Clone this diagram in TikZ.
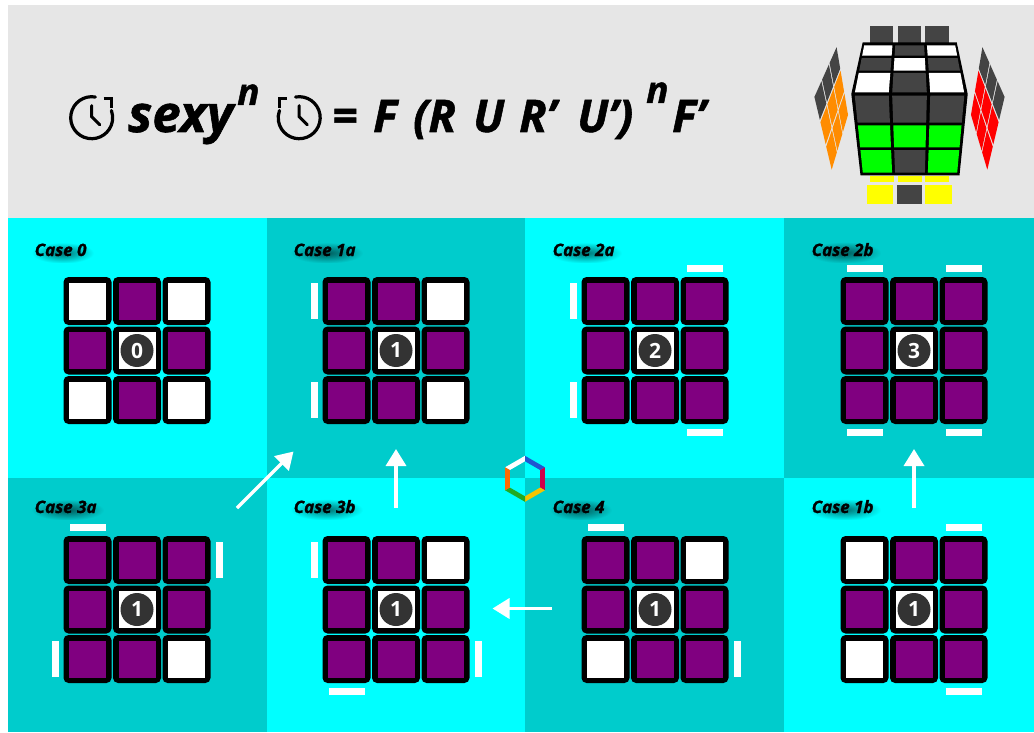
\documentclass[tikz,border=0pt]{standalone}
\usepackage{fontspec}
\setmainfont{Open Sans}
\newfontfamily\heavyfont{Open Sans}[BoldItalicFeatures={FakeBold=1.2}]
\usetikzlibrary{arrows.meta,fadings}

\definecolor{panelcyan}{HTML}{00FFFF}
\definecolor{panelteal}{HTML}{00CCCC}
\definecolor{headbg}{HTML}{E6E6E6}
\definecolor{stkpurple}{HTML}{800080}
\definecolor{badgegray}{HTML}{333333}
\definecolor{cubedark}{HTML}{444444}
\definecolor{cubegreen}{HTML}{00FF00}
\definecolor{cubeorange}{HTML}{FF8C00}
\definecolor{cubered}{HTML}{FF0000}
\definecolor{cubeyellow}{HTML}{FFFF00}
\definecolor{hexwhite}{HTML}{FFFFFF}
\definecolor{hexblue}{HTML}{2056D0}
\definecolor{hexred}{HTML}{D0004A}
\definecolor{hexyellow}{HTML}{F5C400}
\definecolor{hexgreen}{HTML}{22AA22}
\definecolor{hexorange}{HTML}{FF6A00}

\pgfdeclarelayer{shade}
\pgfdeclarelayer{labels}
\pgfsetlayers{main,shade,labels}

\tikzfading[name=softblob, inner color=transparent!0, outer color=transparent!100]

\tikzset{
  caselabel/.style={anchor=base west, inner sep=0pt,
    font=\heavyfont\bfseries\itshape\fontsize{17}{19}\selectfont},
  badge/.style={circle, fill=badgegray, minimum size=33pt, inner sep=0pt,
    text=white, font=\bfseries\fontsize{21}{21}\selectfont},
  flow/.style={draw=white, line width=3.5pt, -{Triangle[width=20pt,length=17pt]}},
  formula/.style={anchor=base west, inner sep=0pt,
    font=\heavyfont\bfseries\itshape\fontsize{45}{48}\selectfont},
  supscript/.style={formula, font=\heavyfont\bfseries\itshape\fontsize{37}{40}\selectfont},
  clockline/.style={line width=3.2pt, line cap=round},
}

% one cubie: rounded black frame with a coloured sticker
\newcommand\cubie[3]{%
  \fill[black, rounded corners=5pt] ({#1-24},{#2-24}) rectangle ({#1+24},{#2+24});
  \fill[#3] ({#1-18.5},{#2-18.5}) rectangle ({#1+18.5},{#2+18.5});}

% 3x3 top layer with numbered centre badge
\newcommand\stickergrid[5]{%
  \foreach \c [count=\k from 0] in {#3}{%
    \pgfmathsetmacro\cx{#1+49.5*(mod(\k,3)-1)}%
    \pgfmathsetmacro\cy{#2+49.5*(floor(\k/3)-1)}%
    \cubie{\cx}{\cy}{\c}}
  \node[badge] (#5) at (#1,#2) {#4};}

% edge markers
\newcommand\hmark[2]{\fill[white] ({#1-18},{#2-3.5}) rectangle ({#1+18},{#2+3.5});}
\newcommand\vmark[2]{\fill[white] ({#1-3.5},{#2-18}) rectangle ({#1+3.5},{#2+18});}

% panel caption with a soft drop shadow
\newcommand\caselabel[4]{%
  \begin{pgfonlayer}{labels}
    \node[caselabel] (#1) at (#2,#3) {#4};
  \end{pgfonlayer}
  \begin{pgfonlayer}{shade}
    \fill[black, opacity=0.55, path fading=softblob]
      ([shift={(-3,7)}]#1.south west) rectangle ([shift={(7,-1)}]#1.north east);
  \end{pgfonlayer}}

% bilinear cells on a four-cornered face
\newcommand\setquad[8]{\def\qAx{#1}\def\qAy{#2}\def\qBx{#3}\def\qBy{#4}%
  \def\qCx{#5}\def\qCy{#6}\def\qDx{#7}\def\qDy{#8}}
\newcommand\quadpt[3]{%
  \pgfmathsetmacro\qx{(1-(#2))*((1-(#1))*\qAx+(#1)*\qBx)+(#2)*((1-(#1))*\qCx+(#1)*\qDx)}%
  \pgfmathsetmacro\qy{(1-(#2))*((1-(#1))*\qAy+(#1)*\qBy)+(#2)*((1-(#1))*\qCy+(#1)*\qDy)}%
  \coordinate (#3) at (\qx,\qy);}
\newcommand\quadcell[5]{%
  \quadpt{#1}{#3}{qa}\quadpt{#2}{#3}{qb}\quadpt{#2}{#4}{qc}\quadpt{#1}{#4}{qd}%
  \fill[#5] (qa)--(qb)--(qc)--(qd)--cycle;}

\begin{document}
\begin{tikzpicture}[x=1pt,y=-1pt]
\useasboundingbox (0,0) rectangle (1034,733);
\fill[white] (0,0) rectangle (1034,733);

% ---------- header ----------
\fill[headbg] (8,5) rectangle (1034,218);

% clockwise clock
\begin{scope}[shift={(91.7,117.7)}, yscale=-1]
  \draw[clockline] (80:21) arc[start angle=80, end angle=380, radius=21];
  \draw[clockline, line cap=butt] (12,19.5) -- (20,19.5) -- (20,10);
  \draw[clockline, line width=3pt] (0,12) -- (0,1) -- (8,-7);
\end{scope}
% counter-clockwise clock
\begin{scope}[shift={(299.2,117.7)}, yscale=-1]
  \begin{scope}[xscale=-1]
    \draw[clockline] (80:21) arc[start angle=80, end angle=380, radius=21];
    \draw[clockline, line cap=butt] (12,19.5) -- (20,19.5) -- (20,10);
  \end{scope}
  \draw[clockline, line width=3pt] (0,12) -- (0,1) -- (8,-7);
\end{scope}

\node[formula, font=\heavyfont\bfseries\itshape\fontsize{51}{54}\selectfont] (sexy) at (128,132) {sexy};
\node[supscript] (supA) at (237,105) {n};
\node[formula, font=\heavyfont\bfseries\itshape\fontsize{46}{48}\selectfont] (eq) at (332,132) {=};
\node[formula] (fA) at (373,132) {F};
\node[formula] (rA) at (413,132) {(R};
\node[formula] (uA) at (473,132) {U};
\node[formula] (rB) at (519,132) {R’};
\node[formula] (uB) at (577,132) {U’)};
\node[supscript] (supB) at (646,103) {n};
\node[formula] (fB) at (672,132) {F’};

% ---------- cube icon ----------
% back row of U stickers
\fill[cubedark] (870,26) rectangle (893.3,42.7);
\fill[cubedark] (897.7,26) rectangle (921,42.7);
\fill[cubedark] (925,26) rectangle (948.7,42.7);
% cube body
\fill[black] (862.7,42.3) -- (956.7,42.3) -- (967.7,94) -- (959.5,175.3) -- (860.5,175.3) -- (851.3,94) -- cycle;
% top face
\setquad{862.7}{43.3}{956.7}{43.3}{852.3}{94}{966.7}{94}
\foreach \ua/\ub/\cc in {0.02/0.318/white,0.348/0.652/cubedark,0.682/0.98/white}{\quadcell{\ua}{\ub}{0.04}{0.245}{\cc}}
\foreach \ua/\ub/\cc in {0.02/0.318/cubedark,0.348/0.652/white,0.682/0.98/cubedark}{\quadcell{\ua}{\ub}{0.29}{0.54}{\cc}}
\foreach \ua/\ub/\cc in {0.02/0.318/white,0.348/0.652/cubedark,0.682/0.98/white}{\quadcell{\ua}{\ub}{0.585}{0.97}{\cc}}
% front face
\setquad{852.3}{94}{966.7}{94}{861}{174.3}{959}{174.3}
\foreach \ua/\ub/\cc in {0.02/0.318/cubedark,0.348/0.652/cubedark,0.682/0.98/cubedark}{\quadcell{\ua}{\ub}{0.02}{0.355}{\cc}}
\foreach \ua/\ub/\cc in {0.02/0.318/cubegreen,0.348/0.652/cubegreen,0.682/0.98/cubegreen}{\quadcell{\ua}{\ub}{0.39}{0.665}{\cc}}
\foreach \ua/\ub/\cc in {0.02/0.318/cubegreen,0.348/0.652/cubedark,0.682/0.98/cubegreen}{\quadcell{\ua}{\ub}{0.7}{0.98}{\cc}}
% left face
\setquad{836.7}{46}{814}{96.7}{848.3}{115}{831.7}{171}
\foreach \va/\vb/\cc in {0.01/0.32/cubedark,0.35/0.65/cubeorange,0.68/0.99/cubeorange}{
  \foreach \ua/\ub in {0.01/0.32,0.35/0.65,0.68/0.99}{\quadcell{\ua}{\ub}{\va}{\vb}{\cc}}}
% right face
\setquad{982.3}{46}{1005}{96.7}{970.7}{115}{987.3}{171}
\foreach \va/\vb/\cc in {0.01/0.32/cubedark,0.35/0.65/cubered,0.68/0.99/cubered}{
  \foreach \ua/\ub in {0.01/0.32,0.35/0.65,0.68/0.99}{\quadcell{\ua}{\ub}{\va}{\vb}{\cc}}}
% D stickers below
\fill[cubeyellow] (870,176) rectangle (894,181.7);
\fill[cubeyellow] (897.7,176) rectangle (921.7,181.7);
\fill[cubeyellow] (925,176) rectangle (949.3,181.7);
\fill[cubeyellow] (867.3,185) rectangle (892.7,204.3);
\fill[cubedark] (896.7,185) rectangle (921.7,204.3);
\fill[cubeyellow] (925,185) rectangle (951.7,204.3);

% ---------- panels ----------
\fill[panelcyan] (8,218) rectangle (266.5,478);
\fill[panelteal] (266.5,218) rectangle (525,478);
\fill[panelcyan] (525,218) rectangle (784,478);
\fill[panelteal] (784,218) rectangle (1034,478);
\fill[panelteal] (8,478) rectangle (266.5,732);
\fill[panelcyan] (266.5,478) rectangle (525,732);
\fill[panelteal] (525,478) rectangle (784,732);
\fill[panelcyan] (784,478) rectangle (1034,732);

\def\P{stkpurple}
\def\W{white}
% Case 0
\caselabel{lab0}{34.5}{256}{Case 0}
\stickergrid{137}{350.5}{\W,\P,\W,\P,\W,\P,\W,\P,\W}{0}{c0}
% Case 1a
\caselabel{lab1a}{293.5}{256}{Case 1a}
\stickergrid{396}{350.5}{\P,\P,\W,\P,\W,\P,\P,\P,\W}{1}{c1a}
\vmark{314}{301}\vmark{314}{400}
% Case 2a
\caselabel{lab2a}{552.5}{256}{Case 2a}
\stickergrid{655}{350.5}{\P,\P,\P,\P,\W,\P,\P,\P,\P}{2}{c2a}
\hmark{704.5}{268.5}\hmark{704.5}{432.5}\vmark{573}{301}\vmark{573}{400}
% Case 2b
\caselabel{lab2b}{811.5}{256}{Case 2b}
\stickergrid{914}{350.5}{\P,\P,\P,\P,\W,\P,\P,\P,\P}{3}{c2b}
\hmark{864.5}{268.5}\hmark{963.5}{268.5}\hmark{864.5}{432.5}\hmark{963.5}{432.5}
% Case 3a
\caselabel{lab3a}{34.5}{513}{Case 3a}
\stickergrid{137}{609.5}{\P,\P,\P,\P,\W,\P,\P,\P,\W}{1}{c3a}
\hmark{87.5}{527.5}\vmark{219}{560}\vmark{55}{659}
% Case 3b
\caselabel{lab3b}{293.5}{513}{Case 3b}
\stickergrid{396}{609.5}{\P,\P,\W,\P,\W,\P,\P,\P,\P}{1}{c3b}
\vmark{314}{560}\vmark{478}{659}\hmark{346.5}{691.5}
% Case 4
\caselabel{lab4}{552.5}{513}{Case 4}
\stickergrid{655}{609.5}{\P,\P,\W,\P,\W,\P,\W,\P,\P}{1}{c4}
\hmark{605.5}{527.5}\vmark{737}{659}
% Case 1b
\caselabel{lab1b}{811.5}{513}{Case 1b}
\stickergrid{914}{609.5}{\W,\P,\P,\P,\W,\P,\W,\P,\P}{1}{c1b}
\hmark{963.5}{527.5}\hmark{963.5}{691.5}

% ---------- transitions ----------
\coordinate (fromA) at (237,508);  \coordinate (toA) at (293.5,451.5);
\coordinate (fromB) at (396,508);  \coordinate (toB) at (396,449);
\coordinate (fromC) at (914,508);  \coordinate (toC) at (914,449);
\coordinate (fromD) at (552,608.5); \coordinate (toD) at (492.5,608.5);
\draw[flow] (fromA) -- (toA);
\draw[flow] (fromB) -- (toB);
\draw[flow] (fromC) -- (toC);
\draw[flow] (fromD) -- (toD);

% ---------- hexagon logo ----------
\begin{scope}[shift={(525,478.8)}, yscale=-1]
  \foreach \a/\cc in {90/hexwhite,30/hexblue,-30/hexred,-90/hexyellow,-150/hexgreen,150/hexorange}
    \fill[\cc] (\a:23) -- ({\a+60}:23) -- ({\a+60}:17.5) -- (\a:17.5) -- cycle;
\end{scope}
\end{tikzpicture}
\end{document}
